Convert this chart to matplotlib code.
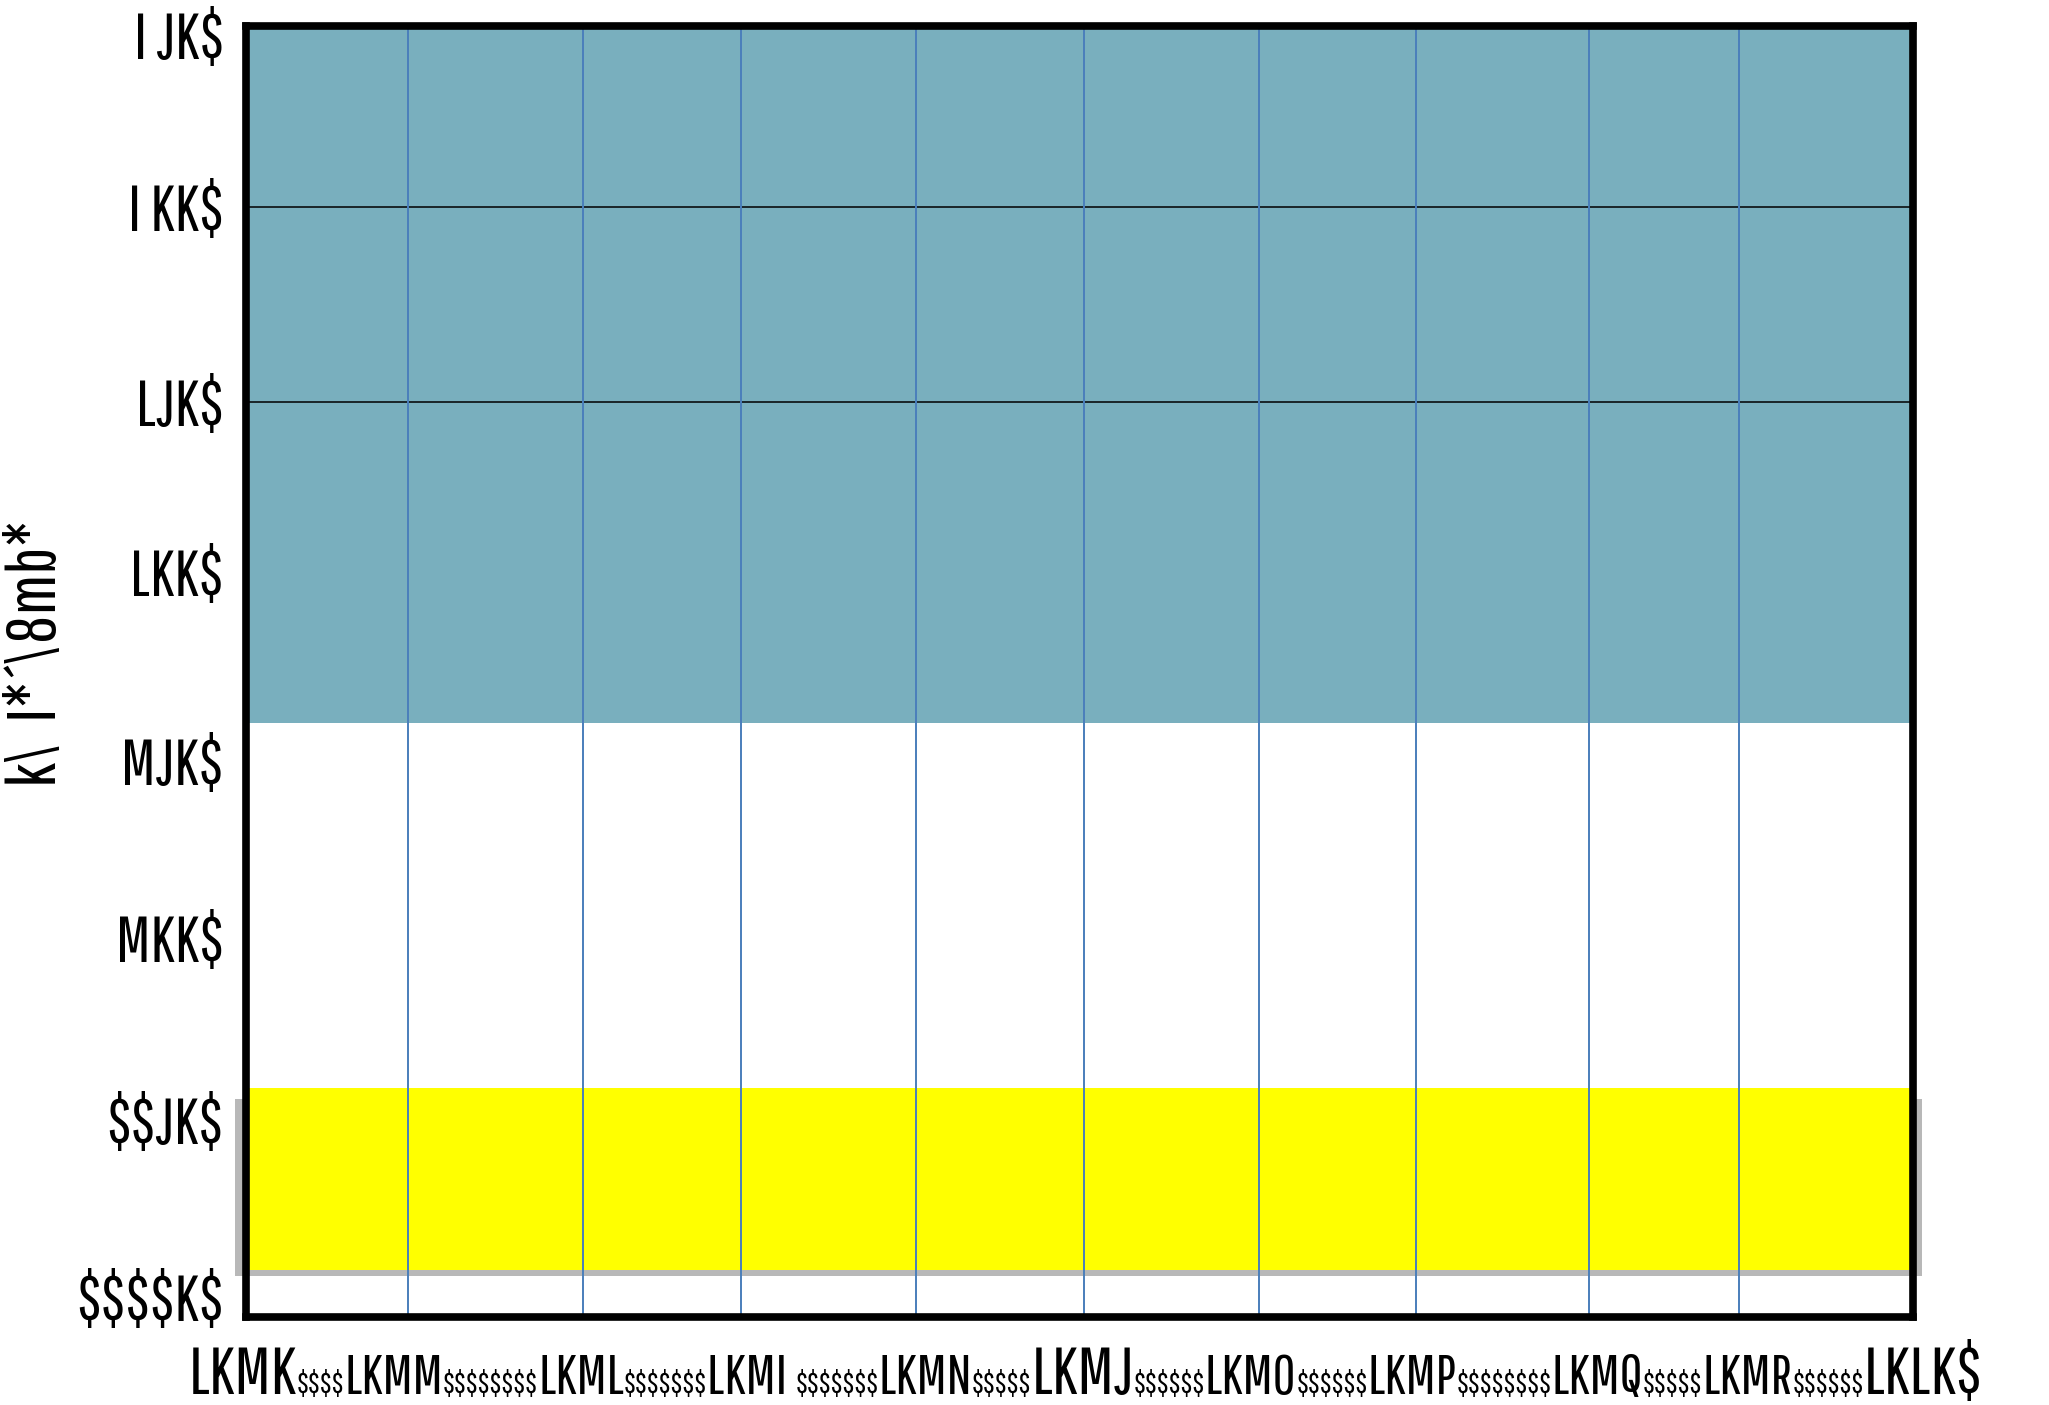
import numpy as np
import matplotlib
matplotlib.use("Agg")
import matplotlib.pyplot as plt
from matplotlib.patches import Rectangle
from matplotlib.transforms import IdentityTransform

plt.rcParams['font.family'] = ['Pathway Gothic One', 'DejaVu Sans']

# column positions along x and the labels underneath
x_ticks = [0, 9.7, 20.2, 29.7, 40.2, 50.3, 60.8, 70.2, 80.6, 89.6, 100]
x_labels = ["LKMK", "LKMM", "LKML", "LKMI ", "LKMN", "LKMJ", "LKMO", "LKMP", "LKMQ", "LKMR", "LKLK$"]
x_big = [True, False, False, False, False, True, False, False, False, False, True]
x_fill = [4, 8, 7, 7, 5, 6, 6, 8, 5, 6]   # number of small "$" between labels

y_ticks = [0.01, 0.99, 2.0, 2.98, 4.03, 4.97, 6.05, 7.0]
y_labels = ["$$$$K$", "$$JK$", "MKK$", "MJK$", "LKK$", "LJK$", "I KK$", "I JK$"]
y_title = "k\\  I*´\\8mb*"

teal_band = (3.19, 7.05)
yellow_band = (0.16, 1.17)
grid_y = [4.97, 6.05]

fig = plt.figure(figsize=(20.49, 14.05), dpi=100)
ax = fig.add_axes([0.12, 0.0626, 0.8135, 0.9189])
ax.set_xlim(0, 100)
ax.set_ylim(-0.1, 7.05)

ax.axhspan(teal_band[0], teal_band[1], color='#79afbe', lw=0, zorder=1)

# yellow band with a soft grey shadow sticking out at the sides
shadow = Rectangle((-0.65, yellow_band[0] - 0.03), 101.2, yellow_band[1] - yellow_band[0] - 0.03,
                   facecolor='#b8b8b8', edgecolor='none', clip_on=False, zorder=1.5)
ax.add_patch(shadow)
ax.axhspan(yellow_band[0], yellow_band[1], color='#ffff00', lw=0, zorder=2)

for g in grid_y:
    ax.axhline(g, color='black', lw=1.1, zorder=2.5)
for x in x_ticks[1:-1]:
    ax.axvline(x, color='#4a7ebb', lw=1.4, zorder=3)

for s in ax.spines.values():
    s.set_linewidth(5.5)
    s.set_color('black')
    s.set_zorder(5)

ax.set_yticks(y_ticks)
ax.set_yticklabels(y_labels, fontsize=46, parse_math=False)
ax.set_xticks([])
ax.tick_params(axis='y', length=0, pad=16)

# x labels run as one continuous line: label, filler, label, filler ...
pieces = []
for i, lab in enumerate(x_labels):
    pieces.append((lab, 48 if x_big[i] else 40))
    if i < len(x_fill):
        pieces.append(("$" * x_fill[i], 22.5))

fig.canvas.draw()
renderer = fig.canvas.get_renderer()
x_start = ax.transData.transform((x_ticks[0], 0))[0]
base_y = 11
cur = None
for j, (txt, size) in enumerate(pieces):
    if j == 0:
        t = fig.text(x_start - 3, base_y, txt, transform=IdentityTransform(), ha='center',
                     va='baseline', fontsize=size, parse_math=False)
    else:
        t = fig.text(cur, base_y, txt, transform=IdentityTransform(), ha='left',
                     va='baseline', fontsize=size, parse_math=False)
    cur = t.get_window_extent(renderer).x1

fig.text(0.018, 0.535, y_title, rotation=90, ha='center', va='center',
         fontsize=50, parse_math=False)

fig.savefig("out.png", dpi=100)
